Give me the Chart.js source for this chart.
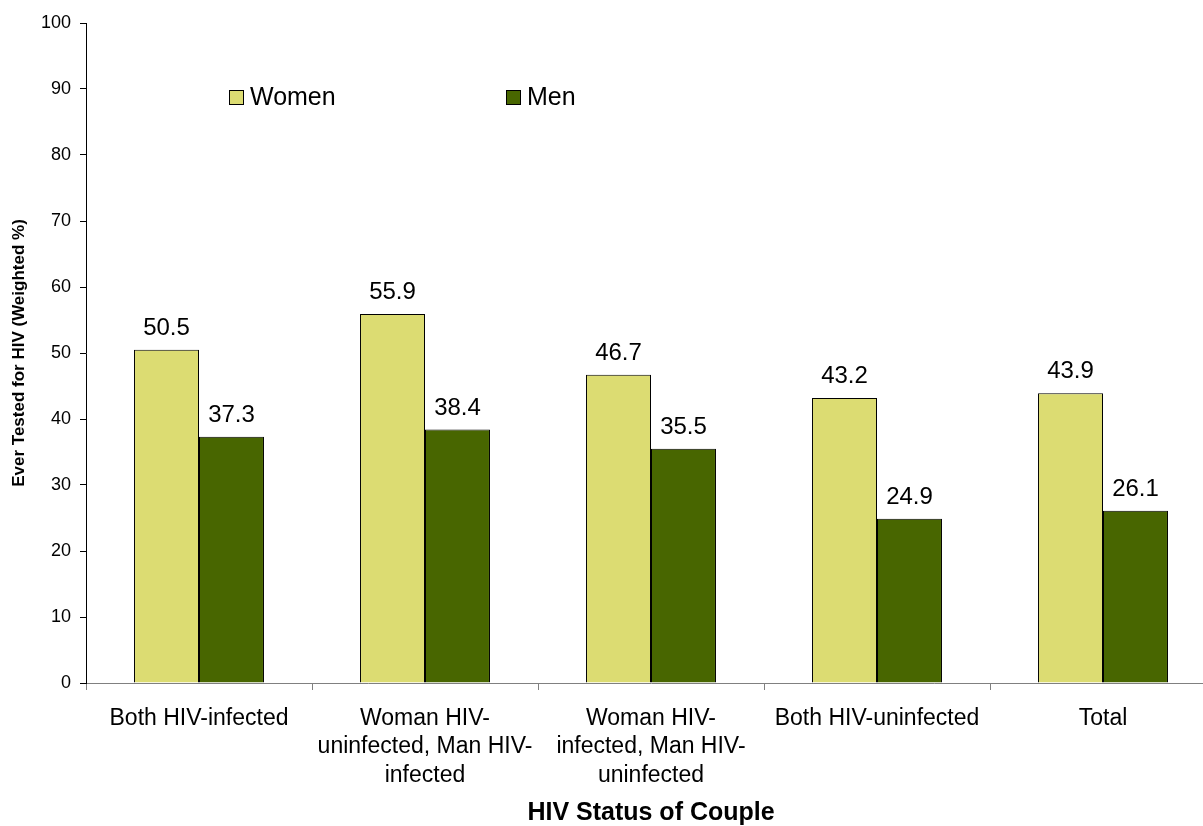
<!DOCTYPE html>
<html>
<head>
<meta charset="utf-8">
<script src="https://cdn.jsdelivr.net/npm/chart.js@4.4.1/dist/chart.umd.min.js"></script>
<style>
  html, body { margin: 0; padding: 0; background: #fff; overflow: hidden; }
  #wrap { width: 1216px; height: 826px; position: relative; }
</style>
</head>
<body>
<div id="wrap"><canvas id="myChart"></canvas></div>
<script>
const categories = [
  'Both HIV-infected',
  ['Woman HIV-', 'uninfected, Man HIV-', 'infected'],
  ['Woman HIV-', 'infected, Man HIV-', 'uninfected'],
  'Both HIV-uninfected',
  'Total'
]
const women = [50.5, 55.9, 46.7, 43.2, 43.9]
const men = [37.3, 38.4, 35.5, 24.9, 26.1]
const yTicks = [0, 10, 20, 30, 40, 50, 60, 70, 80, 90, 100]

const womenColor = '#dcdc72'
const menColor = '#486600'

// labels above each bar
const barLabels = {
  id: 'barLabels',
  afterDatasetsDraw(chart) {
    const c = chart.ctx
    c.save()
    c.font = '24px Arial, "Liberation Sans"'
    c.fillStyle = '#000'
    c.textAlign = 'center'
    c.textBaseline = 'alphabetic'
    chart.data.datasets.forEach((ds, i) => {
      chart.getDatasetMeta(i).data.forEach((bar, j) => {
        c.fillText(ds.data[j].toFixed(1), bar.x, bar.y - 15)
      })
    })
    c.restore()
  }
}

// legend sits inside the plot area
const innerLegend = {
  id: 'innerLegend',
  afterDraw(chart) {
    const c = chart.ctx
    const area = chart.chartArea
    const items = [
      { text: 'Women', color: womenColor, dx: 143 },
      { text: 'Men', color: menColor, dx: 420 }
    ]
    c.save()
    c.font = '25px Arial, "Liberation Sans"'
    c.textBaseline = 'middle'
    c.textAlign = 'left'
    items.forEach(it => {
      const x = area.left + it.dx
      const y = area.top + 74
      c.fillStyle = it.color
      c.fillRect(x, y - 7, 14, 14)
      c.strokeStyle = '#000'
      c.lineWidth = 1
      c.strokeRect(x + 0.5, y - 6.5, 14, 14)
      c.fillStyle = '#000'
      c.fillText(it.text, x + 21, y + 1)
    })
    c.restore()
  }
}

const ctx = document.getElementById('myChart')
const myChart = new Chart(ctx, {
  type: 'bar',
  data: {
    labels: categories,
    datasets: [{
      label: 'Women',
      data: women,
      backgroundColor: womenColor,
      borderColor: '#000',
      borderWidth: 1,
      borderSkipped: 'bottom'
    }, {
      label: 'Men',
      data: men,
      backgroundColor: menColor,
      borderColor: '#000',
      borderWidth: 1,
      borderSkipped: 'bottom'
    }]
  },
  options: {
    responsive: true,
    maintainAspectRatio: false,
    animation: false,
    layout: { padding: { top: 23, right: 0, left: 0, bottom: 0 } },
    plugins: {
      legend: { display: false },
      tooltip: { enabled: false }
    },
    datasets: {
      bar: { categoryPercentage: 0.575, barPercentage: 1 }
    },
    scales: {
      x: {
        grid: {
          drawOnChartArea: false,
          tickLength: 7,
          color: '#808080',
          offset: true
        },
        border: { color: '#808080', width: 1 },
        ticks: {
          color: '#000',
          font: { family: 'Arial, "Liberation Sans"', size: 23, lineHeight: 1.24 },
          padding: 14,
          maxRotation: 0,
          autoSkip: false
        },
        title: {
          display: true,
          text: 'HIV Status of Couple',
          color: '#000',
          font: { family: 'Arial, "Liberation Sans"', size: 25, weight: 'bold', lineHeight: 1 },
          padding: { top: 0, bottom: 0 }
        },
        afterFit(scale) { scale.height = 143 }
      },
      y: {
        min: 0,
        max: 100,
        afterBuildTicks(scale) { scale.ticks = yTicks.map(v => ({ value: v })) },
        grid: {
          drawOnChartArea: false,
          tickLength: 6,
          color: '#000'
        },
        border: { color: '#000', width: 1 },
        ticks: {
          color: '#000',
          font: { family: 'Arial, "Liberation Sans"', size: 18 },
          padding: 9
        },
        title: {
          display: true,
          text: 'Ever Tested for HIV (Weighted %)',
          color: '#000',
          font: { family: 'Arial, "Liberation Sans"', size: 17, weight: 'bold' },
          padding: { top: 9, bottom: 0 }
        },
        afterFit(scale) { scale.width = 86 }
      }
    }
  },
  plugins: [barLabels, innerLegend]
})
</script>
</body>
</html>
